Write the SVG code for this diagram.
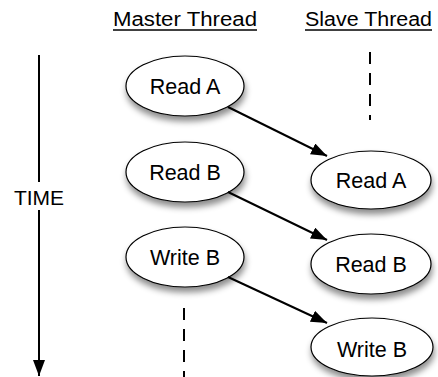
<svg xmlns="http://www.w3.org/2000/svg" width="438" height="377" viewBox="0 0 438 377">
<defs>
<filter id="sh" x="-30%" y="-30%" width="160%" height="170%">
<feDropShadow dx="1" dy="5" stdDeviation="3" flood-color="#000" flood-opacity="0.45"/>
</filter>
<marker id="ah" markerWidth="16" markerHeight="12" refX="16" refY="6" orient="auto" markerUnits="userSpaceOnUse">
<path d="M0,0 L16,6 L0,12 Z" fill="#000"/>
</marker>
<style>
text{font-family:"Liberation Sans",Arial,Helvetica,sans-serif;font-size:20px;fill:#000;}
.n ellipse{fill:#fff;stroke:#000;stroke-width:1.2;filter:url(#sh);}
.n text{text-anchor:middle;font-size:21.5px;}
.c line{stroke:#000;stroke-width:2;}
.d{stroke:#000;stroke-width:2;stroke-dasharray:12 9;fill:none;}
</style>
</defs>
<rect width="438" height="377" fill="#fff"/>
<g id="headers">
<text x="113" y="26" textLength="144" lengthAdjust="spacingAndGlyphs">Master Thread</text>
<line x1="113" y1="30" x2="257" y2="30" stroke="#000" stroke-width="1.5"/>
<text x="305" y="26" textLength="127" lengthAdjust="spacingAndGlyphs">Slave Thread</text>
<line x1="305" y1="30" x2="432" y2="30" stroke="#000" stroke-width="1.5"/>
</g>
<g id="time">
<line x1="39" y1="55" x2="39" y2="182" stroke="#000" stroke-width="2"/>
<line x1="39" y1="210" x2="39" y2="376" stroke="#000" stroke-width="2" marker-end="url(#ah)"/>
<text x="39" y="205" text-anchor="middle" style="font-size:21px">TIME</text>
</g>
<g id="lifelines">
<line class="d" x1="370" y1="52" x2="370" y2="120"/>
<line class="d" x1="184" y1="308" x2="184" y2="377"/>
</g>
<g id="m-readA" class="n"><ellipse cx="185" cy="86" rx="59" ry="30"/><text x="185" y="94">Read A</text></g>
<g id="m-readB" class="n"><ellipse cx="185" cy="172" rx="59" ry="30"/><text x="185" y="180">Read B</text></g>
<g id="m-writeB" class="n"><ellipse cx="185" cy="257" rx="59" ry="30"/><text x="185" y="265">Write B</text></g>
<g id="s-readA" class="n"><ellipse cx="371" cy="180" rx="60" ry="29"/><text x="371" y="188">Read A</text></g>
<g id="s-readB" class="n"><ellipse cx="371" cy="264" rx="60" ry="30"/><text x="371" y="272">Read B</text></g>
<g id="s-writeB" class="n"><ellipse cx="372" cy="347" rx="61" ry="29"/><text x="372" y="357">Write B</text></g>
<g id="connectors" class="c">
<line x1="228" y1="107" x2="327" y2="156" marker-end="url(#ah)"/>
<line x1="228" y1="192" x2="327" y2="240" marker-end="url(#ah)"/>
<line x1="228" y1="277" x2="327" y2="323" marker-end="url(#ah)"/>
</g>
</svg>
